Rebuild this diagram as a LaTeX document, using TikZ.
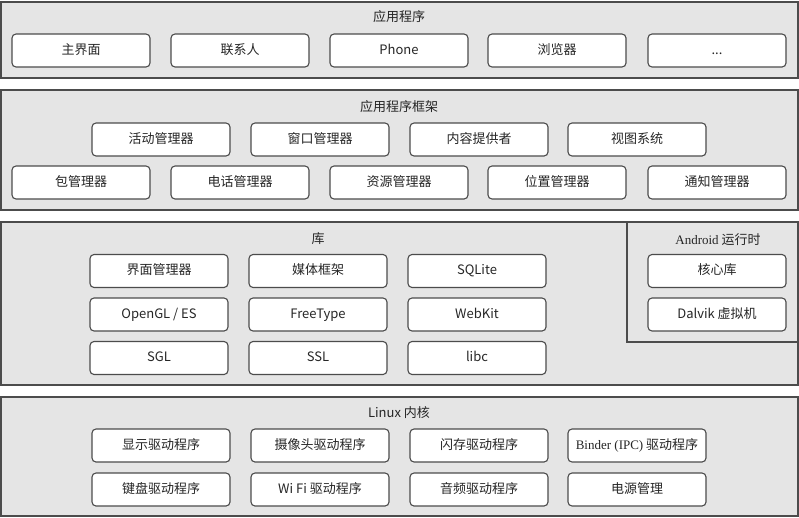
\documentclass[tikz,border=0pt]{standalone}
\usepackage{fontspec}
\setmainfont{Liberation Serif}
\newfontfamily\cjk{Noto Sans CJK SC}

\begin{document}
\begin{tikzpicture}[x=1pt, y=-1pt, line width=1.1pt,
    layer/.style={draw=black!70, fill=black!10},
    unit/.style={draw=black!70, fill=white, rounded corners=4pt, inner sep=0pt,
        minimum width=138pt, minimum height=33pt, text=black!85,
        text height=10pt, text depth=3pt,
        font=\cjk\fontsize{13}{15}\selectfont},
    title/.style={text=black!85, text height=10pt, text depth=3pt,
        font=\cjk\fontsize{13}{15}\selectfont}]

    \useasboundingbox (0,0) rectangle (799,517);

    % --- Layers ---
    \draw[layer] (1,2) rectangle (798,78);
    \draw[layer] (1,90) rectangle (798,210);
    \draw[layer] (1,222) rectangle (798,385);
    \draw[black!70] (627,222) -- (627,342) -- (798,342);
    \draw[layer] (1,397) rectangle (798,516);

    % --- Applications ---
    \node[title] (appT) at (399,18) {应用程序};
    \node[unit] (app1) at (81,50.5) {主界面};
    \node[unit] (app2) at (240,50.5) {联系人};
    \node[unit] (app3) at (399,50.5) {Phone};
    \node[unit] (app4) at (557,50.5) {浏览器};
    \node[unit] (app5) at (717,50.5) {...};

    % --- Application framework ---
    \node[title] (fwT) at (399,108) {应用程序框架};
    \node[unit] (fw1) at (161,139.5) {活动管理器};
    \node[unit] (fw2) at (320,139.5) {窗口管理器};
    \node[unit] (fw3) at (479,139.5) {内容提供者};
    \node[unit] (fw4) at (637,139.5) {视图系统};
    \node[unit] (fw5) at (81,182.5) {包管理器};
    \node[unit] (fw6) at (240,182.5) {电话管理器};
    \node[unit] (fw7) at (399,182.5) {资源管理器};
    \node[unit] (fw8) at (557,182.5) {位置管理器};
    \node[unit] (fw9) at (717,182.5) {通知管理器};

    % --- Libraries ---
    \node[title] (libT) at (318,240) {库};
    \node[unit] (lib1) at (159,271) {界面管理器};
    \node[unit] (lib2) at (318,271) {媒体框架};
    \node[unit] (lib3) at (477,271) {SQLite};
    \node[unit] (lib4) at (159,314.5) {OpenGL / ES};
    \node[unit] (lib5) at (318,314.5) {FreeType};
    \node[unit] (lib6) at (477,314.5) {WebKit};
    \node[unit] (lib7) at (159,358) {SGL};
    \node[unit] (lib8) at (318,358) {SSL};
    \node[unit] (lib9) at (477,358) {libc};

    % --- Android runtime ---
    \node[title] (rtT) at (718,241) {{\rmfamily Android} 运行时};
    \node[unit] (rt1) at (717,271) {核心库};
    \node[unit] (rt2) at (717,314.5) {Dalvik 虚拟机};

    % --- Linux kernel ---
    \node[title] (knT) at (399,414) {Linux 内核};
    \node[unit] (kn1) at (161,445.5) {显示驱动程序};
    \node[unit] (kn2) at (320,445.5) {摄像头驱动程序};
    \node[unit] (kn3) at (479,445.5) {闪存驱动程序};
    \node[unit] (kn4) at (637,445.5) {{\rmfamily Binder (IPC)} 驱动程序};
    \node[unit] (kn5) at (161,489.5) {键盘驱动程序};
    \node[unit] (kn6) at (320,489.5) {Wi Fi 驱动程序};
    \node[unit] (kn7) at (479,489.5) {音频驱动程序};
    \node[unit] (kn8) at (637,489.5) {电源管理};

\end{tikzpicture}
\end{document}
